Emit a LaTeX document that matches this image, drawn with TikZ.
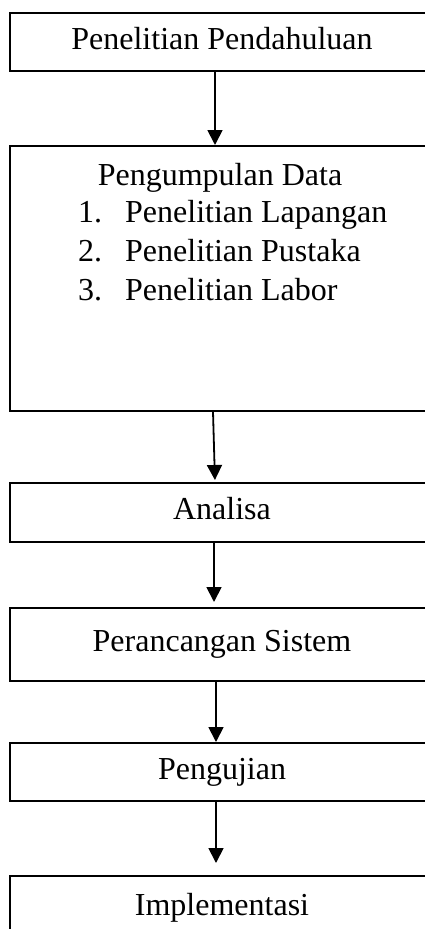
\documentclass[tikz,border=0pt]{standalone}
\usepackage{fontspec}
\setmainfont{Liberation Serif}
\usetikzlibrary{arrows.meta}

\begin{document}
\begin{tikzpicture}[x=1pt, y=-1pt,
  font=\fontsize{32}{39}\selectfont,
  tahap/.style={draw, line width=1.8pt, minimum width=424pt, anchor=north,
    inner sep=0pt, text height=22pt, text depth=7pt},
  panah/.style={line width=1.8pt, -{Triangle[length=15pt,width=15pt]}}]
\useasboundingbox (0,0) rectangle (425,929);
\clip (0,0) rectangle (425,929);

\node[tahap, minimum height=58pt] (pendahuluan) at (222,12) {Penelitian Pendahuluan};
\node[tahap, minimum height=265pt] (pengumpulan) at (222,145) {};
\node[anchor=base, inner sep=0pt] (judul) at (220,185) {Pengumpulan Data};
\foreach \n/\t in {1/Penelitian Lapangan, 2/Penelitian Pustaka, 3/Penelitian Labor}
  \node[anchor=base west, inner sep=0pt] (item\n) at (78,{183+39*\n}) {\makebox[47pt][l]{\n.}\t};
\node[tahap, minimum height=59pt] (analisa) at (222,482) {Analisa};
\node[tahap, minimum height=73pt] (perancangan) at (222,607) {Perancangan Sistem};
\node[tahap, minimum height=58pt] (pengujian) at (222,742) {Pengujian};
\node[tahap, minimum height=65pt] (implementasi) at (222,875) {Implementasi};

\draw[panah] ([xshift=-7pt]pendahuluan.south) -- ([xshift=-7pt]pengumpulan.north);
\draw[panah, shorten >=2pt] ([xshift=-9pt]pengumpulan.south) -- ([xshift=-7pt]analisa.north);
\draw[panah, shorten >=5pt] ([xshift=-8pt]analisa.south) -- ([xshift=-8pt]perancangan.north);
\draw[panah] ([xshift=-6pt]perancangan.south) -- ([xshift=-6pt]pengujian.north);
\draw[panah, shorten >=12pt] ([xshift=-6pt]pengujian.south) -- ([xshift=-6pt]implementasi.north);
\end{tikzpicture}
\end{document}
